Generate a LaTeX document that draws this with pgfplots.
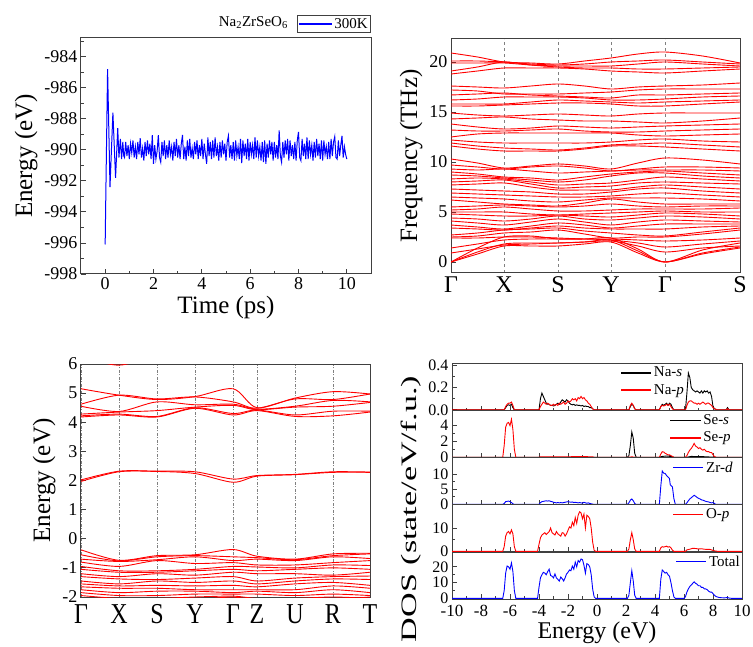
\documentclass[border=0pt]{standalone}
\usepackage{fontspec}
\setmainfont{Liberation Serif}
\usepackage{graphicx}
\usepackage{pgfplots}
\usepackage{pgfplotstable}
\pgfplotsset{compat=1.18}
\definecolor{frame}{HTML}{404040}
\definecolor{symline}{HTML}{808080}

\pgfplotsset{
  base/.style={scale only axis, axis line style={frame, line width=1pt},
    every tick/.style={frame, line width=0.8pt}, tick align=inside,
    major tick length=5pt, minor tick length=3pt,
    /pgf/number format/assume math mode=true,
    tick label style={font=\fontsize{18}{18}\selectfont},
    label style={font=\fontsize{25}{25}\selectfont},
    xtick pos=bottom, ytick pos=left},
  dos/.style={base, width=290pt, height=47pt, xmin=-10, xmax=10,
    xtick={-10,-8,...,10}, minor xtick={-9,-7,...,9}, minor y tick num=1,
    yticklabel style={font=\fontsize{16}{16}\selectfont},
    xticklabel style={font=\fontsize{17}{17}\selectfont, yshift=-3pt},
    legend style={draw=none, fill=none, font=\fontsize{15}{15}\selectfont, anchor=north west, inner sep=0pt, row sep=2pt},
    legend cell align=left,
    legend image post style={xscale=1.76, line width=1.5pt}},
}

% phonon bands: rows = bands, columns = k-path points
\pgfplotstableread{
band k0 k1 k2 k3 k4 k5 k6 k7 k8 k9 k10
x 0 26.5 53 80 107 133.5 160 187 214 251.5 289
p1 20.9 20.5 20.0 19.9 19.8 20.1 20.4 20.8 21.0 20.6 19.9
p2 20.1 20.1 20.0 19.8 19.7 19.8 20.0 20.1 20.2 20.0 19.8
p3 19.9 19.9 19.9 19.7 19.6 19.6 19.6 19.8 20.0 19.8 19.6
p4 19.1 19.5 20.0 19.7 19.5 19.4 19.4 19.3 19.3 19.4 19.5
p5 18.8 19.1 19.4 19.4 19.4 19.3 19.1 19.0 18.9 19.1 19.3
p6 17.6 17.5 17.4 17.6 17.8 17.6 17.3 17.5 17.6 17.7 17.9
p7 17.2 17.1 16.8 16.8 16.8 16.9 17.0 17.2 17.3 17.3 17.3
p8 16.7 16.8 16.9 16.7 16.6 16.5 16.4 16.7 16.7 16.8 16.9
p9 16.2 16.3 16.5 16.5 16.5 16.4 16.2 16.2 16.3 16.5 16.6
p10 15.8 15.8 15.8 16.0 16.2 16.1 16.0 15.9 16.0 16.1 16.2
p11 15.6 15.6 15.7 15.8 15.9 15.9 15.8 15.6 15.6 15.8 16.0
p12 14.9 14.7 14.6 14.7 14.8 14.7 14.6 14.8 14.9 14.9 14.9
p13 14.3 14.4 14.5 14.3 14.2 14.1 14.1 14.0 13.9 14.1 14.4
p14 13.8 13.5 13.3 13.4 13.6 13.5 13.4 13.5 13.6 13.7 13.8
p15 13.2 13.1 13.1 13.2 13.3 13.1 13.0 13.0 13.1 13.2 13.3
p16 12.5 12.8 12.9 12.9 12.9 12.9 12.9 12.7 12.6 12.7 12.8
p17 12.2 12.0 11.9 11.9 11.9 11.9 12.0 12.2 12.3 12.1 12.0
p18 11.9 11.6 11.4 11.3 11.2 11.4 11.7 11.8 11.9 11.7 11.5
p19 11.6 11.3 11.1 11.1 11.1 11.3 11.6 11.6 11.5 11.3 11.1
p20 10.3 9.9 9.4 9.6 9.8 9.6 9.3 9.9 10.4 10.2 9.8
p21 9.7 9.5 9.3 9.5 9.6 9.4 9.1 9.3 9.5 9.5 9.4
p22 9.3 9.2 9.3 9.1 8.9 9.0 9.1 9.2 9.2 9.2 9.1
p23 9.0 8.8 8.5 8.4 8.2 8.5 8.8 9.0 9.1 8.9 8.7
p24 8.7 8.6 8.4 8.2 8.0 8.2 8.6 8.9 8.9 8.6 8.4
p25 8.3 8.4 8.3 8.0 7.7 7.8 7.9 8.2 8.5 8.3 8.1
p26 8.0 8.1 8.2 7.8 7.4 7.5 7.6 7.9 8.0 7.9 7.8
p27 7.7 7.8 7.9 7.5 7.2 7.2 7.2 7.5 7.7 7.5 7.3
p28 7.3 7.2 7.1 7.0 6.8 6.8 7.0 7.3 7.4 7.1 6.9
p29 6.9 6.8 6.7 6.6 6.5 6.5 6.6 6.8 6.9 6.7 6.5
p30 6.5 6.4 6.3 6.1 6.0 6.2 6.4 6.4 6.4 6.3 6.1
p31 6.2 6.0 5.8 5.7 5.6 5.9 6.3 6.0 5.8 5.8 5.8
p32 5.5 5.6 5.7 5.6 5.5 5.6 5.8 5.6 5.5 5.6 5.6
p33 5.2 5.3 5.5 5.3 5.1 5.1 5.2 5.3 5.3 5.3 5.4
p34 5.0 5.0 5.0 4.8 4.7 4.8 4.9 5.0 5.1 5.0 5.0
p35 4.8 4.7 4.6 4.6 4.7 4.6 4.5 4.7 4.9 4.8 4.6
p36 4.4 4.3 4.1 4.3 4.6 4.3 4.2 4.4 4.6 4.5 4.3
p37 4.1 3.9 3.7 4.0 4.3 4.0 3.7 4.0 4.2 4.1 4.0
p38 3.7 3.5 3.3 3.6 3.9 3.7 3.4 3.6 3.8 3.8 3.8
p39 3.4 3.3 3.2 3.4 3.6 3.4 3.3 3.3 3.3 3.5 3.6
p40 2.7 2.9 3.2 3.3 3.4 3.1 2.9 2.7 2.6 3.0 3.4
p41 2.5 2.6 2.9 3.0 3.2 2.8 2.4 2.5 2.5 2.8 3.2
p42 2.4 2.4 2.5 2.5 2.4 2.3 2.3 2.2 2.1 2.2 2.4
p43 1.4 1.8 2.2 2.3 2.3 2.3 2.2 1.9 1.5 1.8 2.1
p44 0.9 1.3 1.7 1.8 1.9 2.0 2.1 1.6 1.0 1.4 1.6
p45 0 1.4 2.5 2.6 2.3 2.3 2.4 1.3 0 1.2 1.9
p46 0 1.0 1.8 1.9 1.9 2.0 2.2 1.1 0 0.9 1.5
p47 0 0.8 1.6 1.6 1.6 1.8 2.0 0.9 0 0.8 1.4
}\phraw
\pgfplotstabletranspose[colnames from=band]\ph{\phraw}

% electronic bands: Gamma X S Y Gamma Z U R T
\pgfplotstableread{
band k0 k1 k2 k3 k4 k5 k6 k7 k8
x 0 38 76 114 152 176 214 252 289
b1 6.25 5.96 6.3 6.4 6.5 6.5 6.5 6.5 6.5
b2 5.15 4.93 4.78 4.88 5.15 4.50 4.83 5.05 4.97
b3 4.62 4.93 4.80 4.87 4.70 4.48 4.80 4.78 4.97
b4 4.55 4.37 4.70 4.60 4.62 4.45 4.55 4.75 4.70
b5 4.28 4.35 4.40 4.52 4.58 4.43 4.52 4.55 4.68
b6 4.22 4.28 4.20 4.50 4.30 4.42 4.25 4.38 4.38
b7 4.18 4.25 4.18 4.48 4.25 4.40 4.20 4.22 4.35
b8 2.02 2.32 2.32 2.30 2.05 2.17 2.21 2.30 2.29
b9 1.97 2.30 2.31 2.24 1.94 2.15 2.20 2.28 2.28
b10 -0.38 -0.74 -0.58 -0.55 -0.37 -0.60 -0.70 -0.52 -0.50
b11 -0.55 -0.76 -0.62 -0.58 -0.62 -0.65 -0.72 -0.58 -0.52
b12 -0.70 -0.78 -0.72 -0.62 -0.75 -0.70 -0.75 -0.62 -0.68
b13 -0.80 -0.95 -0.75 -0.85 -0.82 -0.90 -0.90 -0.82 -0.75
b14 -0.95 -1.10 -1.10 -1.05 -0.95 -0.97 -1.00 -0.90 -0.92
b15 -1.05 -1.15 -1.15 -1.10 -1.05 -1.10 -1.05 -1.00 -1.05
b16 -1.20 -1.30 -1.20 -1.25 -1.15 -1.20 -1.20 -1.25 -1.15
b17 -1.30 -1.38 -1.40 -1.35 -1.30 -1.45 -1.35 -1.30 -1.28
b18 -1.45 -1.55 -1.45 -1.50 -1.45 -1.55 -1.45 -1.38 -1.40
b19 -1.55 -1.62 -1.60 -1.62 -1.60 -1.65 -1.55 -1.50 -1.60
b20 -1.65 -1.70 -1.70 -1.75 -1.75 -1.75 -1.75 -1.62 -1.70
b21 -1.75 -1.85 -1.80 -1.80 -1.85 -1.80 -1.85 -1.75 -1.85
b22 -1.85 -1.95 -1.95 -1.90 -1.90 -1.90 -1.95 -1.90 -1.95
b23 -1.95 -2.05 -2.05 -2.00 -1.97 -2.05 -2.05 -2.00 -2.05
b24 -2.10 -2.20 -2.10 -2.10 -2.00 -2.15 -2.20 -2.10 -2.00
}\elraw
\pgfplotstabletranspose[colnames from=band]\el{\elraw}

\newcommand\kl[1]{\scalebox{1}[1.2]{#1}}

\begin{document}
\begin{tikzpicture}
\useasboundingbox (0pt,0pt) rectangle (753pt,646pt);

% ---------------- MD ----------------
\begin{axis}[base, name=md, at={(81pt,372pt)}, anchor=south west, width=290pt, height=236pt,
  xmin=-1, xmax=11, ymin=-998, ymax=-982.8,
  xtick={0,2,...,10}, minor xtick={1,3,...,9},
  ytick={-998,-996,...,-984}, minor ytick={-997,-995,...,-983},
  xlabel={Time (ps)}, ylabel={Energy (eV)},
  legend style={at={(1,1)}, anchor=south east, yshift=5pt, draw=frame, line width=0.6pt,
    font=\fontsize{15}{15}\selectfont, inner sep=1pt},
  legend image post style={xscale=1.93, line width=1.3pt}]
\addplot[blue, line width=1pt, no marks] coordinates {
(0,-996.1) (0.03,-992.6) (0.1,-984.8) (0.15,-988.6) (0.2,-992.4) (0.26,-990.0) (0.32,-987.6)
(0.38,-989.9) (0.43,-991.8) (0.47,-990.4) (0.52,-988.6) (0.57,-990.5) (0.63,-989.3) (0.68,-990.6)
(0.73,-989.5) (0.77,-990.4)
(0.80,-990.5) (0.85,-989.5) (0.90,-990.4) (0.95,-989.7) (1.00,-990.6) (1.05,-989.6) (1.10,-990.2)
(1.15,-989.4) (1.20,-990.5) (1.25,-989.8) (1.30,-990.6) (1.35,-989.5) (1.40,-990.3) (1.45,-989.25)
(1.50,-990.5) (1.55,-989.9) (1.60,-990.7) (1.65,-989.5) (1.70,-990.4) (1.75,-989.4) (1.80,-990.3)
(1.85,-989.6) (1.90,-990.6) (1.95,-989.05) (2.00,-990.9) (2.05,-989.7) (2.10,-990.6) (2.15,-990.1)
(2.20,-989.05) (2.25,-990.5) (2.30,-990.8) (2.35,-989.5) (2.40,-990.4) (2.45,-989.4) (2.50,-990.6)
(2.55,-989.7) (2.60,-990.5) (2.65,-989.4) (2.70,-990.3) (2.75,-989.8) (2.80,-990.7) (2.85,-989.5)
(2.90,-990.4) (2.95,-989.3) (3.00,-990.5) (3.05,-989.7) (3.10,-990.6) (3.15,-989.6) (3.20,-989.05)
(3.25,-990.6) (3.30,-989.8) (3.35,-990.7) (3.40,-989.4) (3.45,-990.4) (3.50,-989.3) (3.55,-990.5)
(3.60,-989.9) (3.65,-990.6) (3.70,-989.5) (3.75,-990.3) (3.80,-989.4) (3.85,-990.6) (3.90,-989.7)
(3.95,-990.4) (4.00,-989.3) (4.05,-990.6) (4.10,-989.6) (4.15,-990.3) (4.20,-990.9) (4.25,-989.2)
(4.30,-990.4) (4.35,-989.5) (4.40,-990.6) (4.45,-989.4) (4.50,-990.5) (4.55,-989.2) (4.60,-990.4)
(4.65,-989.8) (4.70,-990.7) (4.75,-989.5) (4.80,-990.5) (4.85,-989.4) (4.90,-990.3) (4.95,-989.6)
(5.00,-990.7) (5.05,-989.5) (5.10,-989.1) (5.15,-990.5) (5.20,-989.7) (5.25,-990.6) (5.30,-989.5)
(5.35,-990.7) (5.40,-989.4) (5.45,-990.4) (5.50,-989.8) (5.55,-990.6) (5.60,-989.3) (5.65,-990.85)
(5.70,-989.4) (5.75,-990.4) (5.80,-989.6) (5.85,-990.6) (5.90,-989.3) (5.95,-990.7) (6.00,-989.5)
(6.05,-990.3) (6.10,-989.7) (6.15,-990.6) (6.20,-989.2) (6.25,-990.5) (6.30,-989.4) (6.35,-990.4)
(6.40,-989.8) (6.45,-990.7) (6.50,-989.5) (6.55,-990.8) (6.60,-989.4) (6.65,-990.9) (6.70,-989.6)
(6.75,-990.5) (6.80,-989.4) (6.85,-990.3) (6.90,-989.5) (6.95,-990.7) (7.00,-989.5) (7.05,-990.5)
(7.10,-989.7) (7.15,-990.6) (7.20,-988.75) (7.25,-990.4) (7.30,-990.8) (7.35,-989.5) (7.40,-990.5)
(7.45,-989.4) (7.50,-990.3) (7.55,-989.3) (7.60,-990.7) (7.65,-989.4) (7.70,-990.4) (7.75,-989.7)
(7.80,-990.6) (7.85,-989.5) (7.90,-990.7) (7.95,-989.4) (8.00,-988.85) (8.05,-990.5) (8.10,-990.7)
(8.15,-989.3) (8.20,-990.4) (8.25,-989.6) (8.30,-990.6) (8.35,-989.2) (8.40,-990.6) (8.45,-989.4)
(8.50,-990.3) (8.55,-989.7) (8.60,-990.7) (8.65,-989.5) (8.70,-990.5) (8.75,-989.3) (8.80,-990.4)
(8.85,-989.6) (8.90,-990.6) (8.95,-989.4) (9.00,-990.7) (9.05,-989.4) (9.10,-990.3) (9.15,-989.8)
(9.20,-990.6) (9.25,-989.5) (9.30,-990.6) (9.35,-989.3) (9.40,-990.4) (9.45,-989.5) (9.50,-989.15)
(9.55,-990.5) (9.60,-990.6) (9.65,-989.4) (9.70,-990.4) (9.75,-989.7) (9.80,-989.1) (9.85,-990.5)
(9.90,-989.8) (9.95,-990.3) (10.00,-990.6)
};
\addlegendentry{300K}
\end{axis}
\node[anchor=east, font=\fontsize{15}{15}\selectfont, inner sep=0pt] at ([xshift=-83pt, yshift=15pt]md.north east) {Na\textsubscript{2}ZrSeO\textsubscript{6}};

% ---------------- Phonon ----------------
\begin{axis}[base, at={(451pt,373pt)}, anchor=south west, width=289pt, height=234pt,
  xmin=0, xmax=289, ymin=-1.1, ymax=22.3,
  xtick={0,53,107,160,214,289}, xticklabels={Γ,X,S,Y,Γ,S},
  xticklabel style={font=\fontsize{24}{24}\selectfont},
  major x tick style={draw=none},
  xmajorgrids, major x grid style={symline, dashed, line width=0.8pt},
  ytick={0,5,...,20},
  ylabel={Frequency (THz)}]
\pgfplotsinvokeforeach{1,...,47}{
  \addplot[red, line width=0.9pt, smooth, no marks] table[x=x, y=p#1] {\ph};
}
\end{axis}

% ---------------- Electronic bands ----------------
\begin{axis}[base, at={(81pt,49pt)}, anchor=south west, width=289pt, height=233pt,
  xmin=0, xmax=289, ymin=-2, ymax=6,
  xtick={0,38,76,114,152,176,214,252,289},
  xticklabels={\kl{Γ},\kl{X},\kl{S},\kl{Y},\kl{Γ},\kl{Z},\kl{U},\kl{R},\kl{T}},
  xticklabel style={font=\fontsize{24}{24}\selectfont, yshift=-4pt},
  major x tick style={draw=none},
  xmajorgrids, major x grid style={symline, line width=0.8pt, dash pattern=on 3pt off 1.5pt on 1pt off 1.5pt},
  ytick={-2,-1,...,6},
  ylabel={Energy (eV)}]
\pgfplotsinvokeforeach{1,...,24}{
  \addplot[red, line width=0.9pt, smooth, no marks] table[x=x, y=b#1] {\el};
}
\end{axis}

% ---------------- DOS ----------------
\begin{axis}[dos, at={(452pt,235pt)}, anchor=south west, ymin=-0.01, ymax=0.41,
  ytick={0,0.2,0.4}, xticklabels={},
  yticklabel style={/pgf/number format/fixed, /pgf/number format/fixed zerofill, /pgf/number format/precision=1},
  legend style={at={(axis description cs:0.58,0.98)}}]
\addplot[black, line width=0.9pt, no marks] coordinates {
(-10,0) (-6.4,0) (-6.3,0.02) (-6.2,0.04) (-6.1,0.045) (-6.0,0.04) (-5.9,0.05) (-5.8,0.02) (-5.7,0)
(-4.0,0) (-3.9,0.1) (-3.8,0.15) (-3.7,0.12) (-3.6,0.09) (-3.5,0.06) (-3.4,0.05) (-3.3,0.05) (-3.2,0.04)
(-3.1,0.04) (-3.0,0.035) (-2.9,0.04) (-2.8,0.05) (-2.7,0.06) (-2.6,0.05) (-2.5,0.07) (-2.4,0.09)
(-2.3,0.08) (-2.2,0.07) (-2.1,0.09) (-2.0,0.08) (-1.9,0.06) (-1.8,0.05) (-1.7,0.045) (-1.6,0.05)
(-1.5,0.04) (-1.4,0.045) (-1.3,0.04) (-1.2,0.04) (-1.1,0.035) (-1.0,0.04) (-0.9,0.03) (-0.8,0.035)
(-0.7,0.03) (-0.6,0.03) (-0.5,0.02) (-0.4,0.02) (-0.3,0.01) (-0.2,0)
(2.2,0) (2.3,0.03) (2.4,0.05) (2.5,0.04) (2.6,0.01) (2.7,0)
(4.3,0) (4.4,0.03) (4.5,0.05) (4.6,0.04) (4.7,0.05) (4.8,0.06) (4.9,0.04) (5.0,0.06) (5.1,0.05) (5.2,0.02) (5.3,0)
(6.1,0) (6.2,0.15) (6.3,0.33) (6.4,0.29) (6.5,0.2) (6.6,0.18) (6.7,0.17) (6.8,0.16) (6.9,0.17) (7.0,0.16)
(7.1,0.15) (7.2,0.17) (7.3,0.15) (7.4,0.17) (7.5,0.16) (7.6,0.17) (7.7,0.15) (7.8,0.16) (7.9,0.12)
(8.0,0.03) (8.1,0.01) (8.3,0) (8.9,0) (9.0,0.02) (9.1,0) (10,0)
};
\addlegendentry{Na-\textit{s}}
\addplot[red, line width=0.9pt, no marks] coordinates {
(-10,0) (-6.4,0) (-6.3,0.03) (-6.2,0.05) (-6.1,0.06) (-6.0,0.06) (-5.9,0.07) (-5.8,0.04) (-5.7,0)
(-4.0,0) (-3.9,0.03) (-3.8,0.05) (-3.7,0.07) (-3.6,0.06) (-3.5,0.05) (-3.4,0.06) (-3.3,0.05) (-3.2,0.04)
(-3.1,0.04) (-3.0,0.05) (-2.9,0.04) (-2.8,0.05) (-2.7,0.04) (-2.6,0.06) (-2.5,0.05) (-2.4,0.06)
(-2.3,0.07) (-2.2,0.05) (-2.1,0.06) (-2.0,0.08) (-1.9,0.07) (-1.8,0.08) (-1.7,0.1) (-1.6,0.09)
(-1.5,0.1) (-1.4,0.08) (-1.3,0.11) (-1.2,0.1) (-1.1,0.12) (-1.0,0.1) (-0.9,0.11) (-0.8,0.09)
(-0.7,0.08) (-0.6,0.06) (-0.5,0.05) (-0.4,0.03) (-0.3,0.01) (-0.2,0)
(2.2,0) (2.3,0.04) (2.4,0.06) (2.5,0.04) (2.6,0.01) (2.7,0)
(4.3,0) (4.4,0.03) (4.5,0.04) (4.6,0.035) (4.7,0.04) (4.8,0.05) (4.9,0.04) (5.0,0.05) (5.1,0.03) (5.2,0.01) (5.3,0)
(6.1,0) (6.2,0.04) (6.3,0.07) (6.4,0.08) (6.5,0.08) (6.6,0.07) (6.7,0.06) (6.8,0.06) (6.9,0.05) (7.0,0.06)
(7.1,0.05) (7.2,0.06) (7.3,0.07) (7.4,0.06) (7.5,0.05) (7.6,0.06) (7.7,0.06) (7.8,0.05) (7.9,0.04)
(8.0,0.02) (8.1,0.01) (8.3,0) (8.9,0) (9.0,0.01) (9.1,0) (10,0)
};
\addlegendentry{Na-\textit{p}}
\end{axis}

\begin{axis}[dos, at={(452pt,188pt)}, anchor=south west, ymin=-0.1, ymax=5.85,
  ytick={0,2,4}, xticklabels={},
  legend style={at={(axis description cs:0.75,0.97)}}]
\addplot[black, line width=0.9pt, no marks] coordinates {
(-10,0) (2.1,0) (2.2,0.2) (2.3,1.5) (2.4,3.2) (2.5,2.4) (2.6,0.5) (2.7,0)
(4.3,0) (4.5,0.1) (4.8,0.15) (5.1,0.1) (5.3,0) (6.2,0) (6.5,0.1) (7.0,0.08) (7.5,0.06) (8.0,0) (10,0)
};
\addlegendentry{Se-\textit{s}}
\addplot[red, line width=0.9pt, no marks] coordinates {
(-10,0) (-6.5,0) (-6.4,1.5) (-6.3,3.8) (-6.2,4.3) (-6.1,4.4) (-6.0,4.0) (-5.9,4.8) (-5.8,3.5) (-5.7,1.0) (-5.6,0)
(-4.0,0) (-3.9,0.05) (-2.0,0.06) (-1.0,0.08) (-0.3,0.05) (-0.2,0)
(2.2,0) (2.4,0.05) (2.6,0)
(4.3,0) (4.4,0.4) (4.5,0.7) (4.6,0.65) (4.7,0.5) (4.8,0.4) (4.9,0.3) (5.0,0.3) (5.1,0.2) (5.2,0.1) (5.3,0)
(6.1,0) (6.2,0.2) (6.3,0.6) (6.4,0.9) (6.5,1.1) (6.6,1.4) (6.7,1.75) (6.8,1.4) (6.9,1.3) (7.0,1.1)
(7.1,1.2) (7.2,1.0) (7.3,0.9) (7.4,1.0) (7.5,0.8) (7.6,0.7) (7.7,0.7) (7.8,0.6) (7.9,0.6) (8.0,0.3)
(8.1,0.1) (8.2,0) (10,0)
};
\addlegendentry{Se-\textit{p}}
\end{axis}

\begin{axis}[dos, at={(452pt,141pt)}, anchor=south west, ymin=-0.2, ymax=15.3,
  ytick={0,5,10}, xticklabels={},
  legend style={at={(axis description cs:0.76,0.97)}}]
\addplot[blue, line width=0.9pt, no marks] coordinates {
(-10,0) (-6.5,0) (-6.4,0.3) (-6.3,0.9) (-6.2,1.0) (-6.1,1.1) (-6.0,0.9) (-5.9,0.6) (-5.8,0.2) (-5.7,0)
(-4.0,0) (-3.9,0.6) (-3.8,0.9) (-3.7,1.0) (-3.6,1.1) (-3.5,1.2) (-3.4,1.1) (-3.3,1.2) (-3.2,1.0)
(-3.1,0.9) (-3.0,0.7) (-2.9,0.6) (-2.8,0.5) (-2.7,0.6) (-2.6,0.5) (-2.5,0.6) (-2.4,0.5) (-2.3,0.6)
(-2.2,0.7) (-2.1,0.8) (-2.0,0.9) (-1.9,0.8) (-1.8,0.7) (-1.7,0.8) (-1.6,0.6) (-1.5,0.7) (-1.4,0.6)
(-1.3,0.5) (-1.2,0.6) (-1.1,0.5) (-1.0,0.4) (-0.9,0.7) (-0.8,0.5) (-0.7,0.4) (-0.6,0.5) (-0.5,0.3)
(-0.4,0.2) (-0.3,0.1) (-0.2,0)
(2.1,0) (2.2,0.5) (2.3,1.4) (2.4,1.8) (2.5,1.2) (2.6,0.3) (2.7,0)
(4.3,0) (4.4,6.0) (4.5,11.0) (4.6,10.3) (4.7,10.2) (4.8,9.5) (4.9,9.0) (5.0,8.5) (5.05,6.5) (5.1,6.2)
(5.2,5.8) (5.3,2.0) (5.4,0)
(6.1,0) (6.2,0.5) (6.3,1.2) (6.4,1.8) (6.5,2.2) (6.6,2.6) (6.7,3.0) (6.8,2.7) (6.9,2.3) (7.0,2.0)
(7.1,1.8) (7.2,1.5) (7.3,1.4) (7.4,1.2) (7.5,1.0) (7.6,0.9) (7.7,0.8) (7.8,0.6) (7.9,0.5) (8.0,0.6)
(8.1,0.3) (8.2,0) (10,0)
};
\addlegendentry{Zr-\textit{d}}
\end{axis}

\begin{axis}[dos, at={(452pt,94pt)}, anchor=south west, ymin=-0.3, ymax=19.9,
  ytick={0,10}, xticklabels={},
  legend style={at={(axis description cs:0.76,0.97)}}]
\addplot[red, line width=0.9pt, no marks] coordinates {
(-10,0) (-6.5,0) (-6.4,2.0) (-6.3,6.5) (-6.2,8.0) (-6.1,8.5) (-6.0,7.5) (-5.9,9.2) (-5.8,7.5) (-5.7,2.0) (-5.6,0)
(-4.1,0) (-4.0,3.0) (-3.9,5.8) (-3.8,7.0) (-3.7,7.5) (-3.6,8.0) (-3.5,7.2) (-3.4,7.8) (-3.3,8.5)
(-3.2,10.0) (-3.1,8.0) (-3.0,7.5) (-2.9,7.0) (-2.8,8.5) (-2.7,7.5) (-2.6,7.0) (-2.5,6.5) (-2.4,8.0)
(-2.3,7.8) (-2.2,6.5) (-2.1,7.5) (-2.0,9.0) (-1.9,10.5) (-1.8,10.0) (-1.7,12.5) (-1.6,11.0) (-1.5,14.5)
(-1.4,12.0) (-1.3,15.5) (-1.2,17.0) (-1.1,16.5) (-1.0,14.0) (-0.9,16.0) (-0.8,10.0) (-0.7,15.5)
(-0.6,15.0) (-0.5,14.0) (-0.4,10.0) (-0.3,4.0) (-0.2,0.5) (-0.1,0)
(2.1,0) (2.2,1.0) (2.3,5.0) (2.4,8.0) (2.5,5.0) (2.6,1.0) (2.7,0)
(4.3,0) (4.4,1.5) (4.5,2.0) (4.6,1.8) (4.7,2.0) (4.8,2.2) (4.9,1.8) (5.0,2.0) (5.1,1.5) (5.2,0.5) (5.3,0)
(6.1,0) (6.2,0.6) (6.4,0.9) (6.6,1.3) (6.8,1.2) (7.0,1.0) (7.2,1.1) (7.4,0.9) (7.6,0.8) (7.8,0.8)
(7.9,0.6) (8.1,0.2) (8.3,0) (10,0)
};
\addlegendentry{O-\textit{p}}
\end{axis}

\begin{axis}[dos, at={(452pt,47pt)}, anchor=south west, ymin=-0.4, ymax=29.4,
  ytick={0,10,20}, xlabel={Energy (eV)}, xlabel style={font=\fontsize{24}{24}\selectfont, yshift=2pt},
  legend style={at={(axis description cs:0.77,0.97)}}]
\addplot[blue, line width=0.9pt, no marks] coordinates {
(-10,0) (-6.5,0) (-6.4,5) (-6.3,16) (-6.2,20.5) (-6.1,20) (-6.0,18.5) (-5.9,22.5) (-5.8,17) (-5.7,5) (-5.6,0)
(-4.1,0) (-4.0,7) (-3.9,13) (-3.8,15) (-3.7,16.5) (-3.6,16) (-3.5,15) (-3.4,17) (-3.3,18.5) (-3.2,14.5)
(-3.1,14) (-3.0,13) (-2.9,15.5) (-2.8,13) (-2.7,12) (-2.6,11) (-2.5,13.5) (-2.4,12.5) (-2.3,11)
(-2.2,13) (-2.1,15.5) (-2.0,16.5) (-1.9,18) (-1.8,17.5) (-1.7,20.5) (-1.6,18.5) (-1.5,23) (-1.4,20)
(-1.3,24) (-1.2,23) (-1.1,25) (-1.0,24.5) (-0.9,21) (-0.8,16) (-0.7,22) (-0.6,21.5) (-0.5,20)
(-0.4,15) (-0.3,6) (-0.2,1) (-0.1,0)
(2.1,0) (2.2,2) (2.3,10) (2.4,17.5) (2.5,11) (2.6,2) (2.7,0)
(4.3,0) (4.4,12) (4.5,18) (4.6,17) (4.7,16) (4.8,16.5) (4.9,15) (5.0,14) (5.1,10) (5.2,5) (5.3,1) (5.4,0)
(6.0,0) (6.1,1) (6.2,4) (6.3,6) (6.4,7.5) (6.5,8.5) (6.6,9.5) (6.7,10.5) (6.8,9.5) (6.9,9) (7.0,8)
(7.1,8) (7.2,7) (7.3,7) (7.4,6) (7.5,6) (7.6,5.5) (7.7,4.5) (7.8,4) (7.9,4) (8.0,3) (8.1,2) (8.2,1.2)
(8.4,0.6) (8.6,0.4) (8.8,0.3) (9.0,0.6) (9.1,0.2) (9.3,0) (10,0)
};
\addlegendentry{Total}
\end{axis}

\node[rotate=90, font=\fontsize{22}{22}\selectfont] at (411pt,137pt) {\scalebox{1.55}[1]{DOS (state/eV/f.u.)}};
\end{tikzpicture}
\end{document}
